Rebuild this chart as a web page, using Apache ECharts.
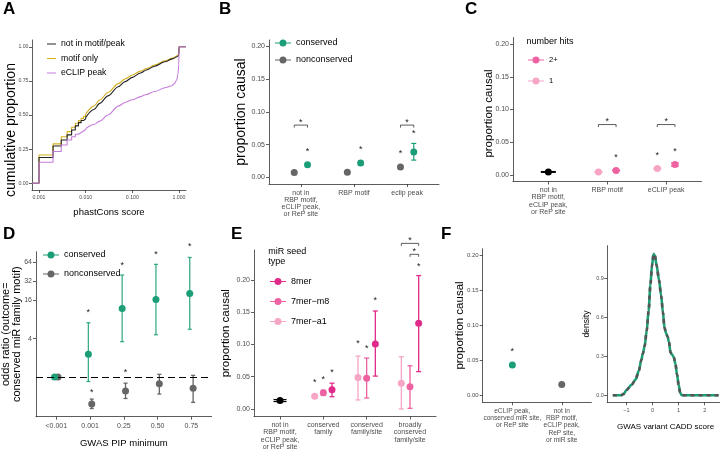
<!DOCTYPE html>
<html><head><meta charset="utf-8">
<script src="https://cdn.jsdelivr.net/npm/echarts@6/dist/echarts.min.js"></script>
<style>html,body{margin:0;padding:0;background:#fff}#c{width:720px;height:451px}</style>
</head><body><div id="c"></div><script>
// ================= DATA =================
// Panel A: cumulative proportion vs phastCons score (ECDF)
const aSteps = [0.001,0.002,0.003,0.004,0.005,0.006,0.007,0.008,0.009,0.010];
const aStepNotIn = [0.188,0.273,0.317,0.354,0.390,0.420,0.444,0.460,0.472,0.483];
const aStepMotif = [0.207,0.288,0.341,0.378,0.410,0.440,0.459,0.475,0.490,0.507];
const aStepEclip = [0.154,0.232,0.280,0.317,0.341,0.359,0.372,0.383,0.392,0.400];
const aCurve = [0.010,0.015,0.020,0.030,0.050,0.070,0.100,0.150,0.200,0.300,0.500,0.700,0.800,0.900,0.950,0.990,1.000];
const aCurveNotIn = [0.483,0.540,0.585,0.640,0.707,0.745,0.776,0.808,0.830,0.858,0.890,0.910,0.918,0.927,0.932,0.938,1.000];
const aCurveMotif = [0.507,0.565,0.610,0.665,0.730,0.765,0.793,0.822,0.840,0.866,0.897,0.915,0.924,0.934,0.940,0.946,1.000];
const aCurveEclip = [0.400,0.430,0.455,0.500,0.565,0.592,0.612,0.635,0.650,0.672,0.700,0.715,0.730,0.760,0.800,0.870,1.000];
const aNames = ['not in motif/peak','motif only','eCLIP peak'];
const aXTicks = [0.001,0.010,0.100,1.000];
const aYTicks = [0,0.25,0.5,0.75,1];

// Panel B
const bCats = ['not in\nRBP motif,\neCLIP peak,\nor ReP site','RBP motif','eclip peak'];
const bCons = [0.0193,0.0219,0.0390];
const bConsLo = [0.0178,0.0185,0.0265];
const bConsHi = [0.0208,0.0253,0.0520];
const bNon = [0.0077,0.0079,0.0158];
const bNonLo = [0.0073,0.0075,0.0150];
const bNonHi = [0.0081,0.0083,0.0166];
const bConsStar = [0.043,0.046,0.070];
const bNonStar = [null,null,0.040];
const bBracket = [0.080,null,0.080];
const propTicks = [0,0.05,0.10,0.15,0.20];

// Panel C
const cCats = ['not in\nRBP motif,\neCLIP peak,\nor ReP site','RBP motif','eCLIP peak'];
const cNone = [0.0046,null,null];
const cNoneLo = [0.0040,null,null];
const cNoneHi = [0.0052,null,null];
const cOne = [null,0.0047,0.0098];
const cOneLo = [null,0.0044,0.0090];
const cOneHi = [null,0.0050,0.0106];
const cTwo = [null,0.0068,0.0160];
const cTwoLo = [null,0.0062,0.0135];
const cTwoHi = [null,0.0074,0.0185];
const cTwoStar = [null,0.029,0.038];
const cOneStar = [null,null,0.032];
const cBracket = [null,0.077,0.077];

// Panel D (odds ratios)
const dCats = ['<0.001','0.001','0.25','0.50','0.75'];
const dCons = [1,2.27,11.9,16.5,20.5];
const dConsLo = [1,0.85,3.58,4.6,5.6];
const dConsHi = [1,7.1,39.7,58.5,75];
const dNon = [1,0.377,0.60,0.78,0.665];
const dNonLo = [1,0.32,0.46,0.54,0.40];
const dNonHi = [1,0.45,0.80,1.10,1.06];
const dConsStar = [null,10.8,60.6,89,118];
const dNonStar = [null,0.62,1.24,null,null];
const dRefOdds = 1;
const dYTicks = [4,16,32,64];

// Panel E
const eCats = ['not in\nRBP motif,\neCLIP peak,\nor ReP site','conserved\nfamily','conserved\nfamily/site','broadly\nconserved\nfamily/site'];
const eNone = [0.013,null,null,null];
const eNoneLo = [0.0115,null,null,null];
const eNoneHi = [0.0145,null,null,null];
const eA1 = [null,0.0196,0.049,0.040];
const eA1Lo = [null,0.017,0.014,0.000];
const eA1Hi = [null,0.022,0.082,0.081];
const eM8 = [null,0.025,0.0475,0.0346];
const eM8Lo = [null,0.021,0.017,0.001];
const eM8Hi = [null,0.029,0.079,0.067];
const e8 = [null,0.030,0.101,0.133];
const e8Lo = [null,0.019,0.051,0.058];
const e8Hi = [null,0.040,0.152,0.207];
const eA1Star = [null,0.044,0.104,null];
const eM8Star = [null,0.049,0.097,null];
const e8Star = [null,0.059,0.171,0.224];
const eBracketWide = [null,null,null,0.257];
const eBracketNarrow = [null,null,null,0.240];

// Panel F (left)
const fCats = ['eCLIP peak,\nconserved miR site,\nor ReP site','not in\nRBP motif,\neCLIP peak,\nReP site,\nor miR site'];
const fCons = [0.0435,null];
const fNon = [null,0.0156];
const fConsStar = [0.066,null];

// Panel F (right): density of GWAS variant CADD score
const densX = [-1.52,-1.20,-1.10,-1.00,-0.80,-0.65,-0.52,-0.43,-0.37,-0.30,-0.22,-0.15,-0.08,-0.02,0.04,0.09,0.16,0.25,0.33,0.40,0.46,0.52,0.58,0.63,0.69,0.76,0.82,0.88,0.94,1.00,1.06,1.12,2.53];
const densY = [0,0,0.01,0.04,0.08,0.12,0.19,0.27,0.32,0.38,0.50,0.65,0.85,1.00,1.09,1.08,1.00,0.89,0.77,0.64,0.52,0.48,0.45,0.41,0.33,0.31,0.29,0.24,0.16,0.08,0.02,0,0];
const densXTicks = [-1,0,1,2];
const densYTicks = [0,0.3,0.6,0.9];

// ================= STYLE =================
const FONT = '"Liberation Sans", Arial, Helvetica, sans-serif';
const TICK = '#4D4D4D', AX = '#333333';
const GREEN = '#1B9E77', GRAY = '#666666';
const P8 = '#E02B8A', PM8 = '#EE62A1', PA1 = '#F6A5C5';
const A_COL = ['#222222','#D4AF1F','#C77CDA'];
const STAR_DY = 1.8;
const PR_ICON = 'path://M0,3H16V4H0Z M8,0A3.5,3.5,0,1,1,7.99,0Z';

const chart = echarts.init(document.getElementById('c'), null, {renderer:'canvas'});

const gridBoxes = [
  {left:32, top:40, width:154, height:150},
  {left:269, top:40, width:170, height:144},
  {left:513, top:37.5, width:188.5, height:144},
  {left:36, top:251.7, width:175.7, height:165},
  {left:254, top:250, width:182, height:166.5},
  {left:482.7, top:248.7, width:108.7, height:153.6},
  {left:607.3, top:245.7, width:116.5, height:156.6}
];
const grid = gridBoxes.map(g => Object.assign({outerBoundsMode:'none', containLabel:false, show:false}, g));

function axis(gi, min, max, ticks, fmt, o) {
  o = o || {};
  const ax = {
    type:'value', gridIndex:gi, min:min, max:max, scale:false,
    axisLine:{show:true, onZero:false, lineStyle:{color:AX, width:0.8}},
    axisTick:{show:true, length:3, inside:false, customValues:ticks, lineStyle:{color:AX, width:0.8}},
    axisLabel:{show:true, customValues:ticks, formatter:fmt, color:TICK, fontSize:(o.tfs||7), fontFamily:FONT,
      margin:(o.margin!=null?o.margin:4), lineHeight:(o.lh||8), hideOverlap:false},
    splitLine:{show:false}, splitArea:{show:false}
  };
  if (o.name) {
    ax.name = o.name; ax.nameLocation = 'middle'; ax.nameGap = o.gap; ax.nameMoveOverlap = false;
    ax.nameTextStyle = {fontSize:o.fs, color:'#000', fontFamily:FONT, lineHeight:(o.nlh||Math.round(o.fs*1.1))};
    if (o.pad) ax.nameTextStyle.padding = o.pad;
  }
  return ax;
}
const catFmt = cats => (v => cats[Math.round(v)-1] || '');
const idxTicks = cats => cats.map((c,i)=>i+1);
const fix = d => (v => v.toFixed(d));
const L2 = arr => arr.map(v => v==null ? null : Math.log2(v));

const xAxes = [
  axis(0,-3.15,0.15,aXTicks.map(Math.log10), v => Math.pow(10,v).toFixed(3), {tfs:5.2, margin:4, name:'phastCons score', gap:17, fs:9.5}),
  axis(1,0.4,3.6,idxTicks(bCats),catFmt(bCats),{margin:5, lh:7.3}),
  axis(2,0.4,3.6,idxTicks(cCats),catFmt(cCats),{margin:5, lh:7.3}),
  axis(3,0.4,5.6,idxTicks(dCats),catFmt(dCats),{margin:5, name:'GWAS PIP minimum', gap:22, fs:9.5}),
  axis(4,0.4,4.6,idxTicks(eCats),catFmt(eCats),{margin:5, lh:7.3}),
  axis(5,0.4,2.6,idxTicks(fCats),catFmt(fCats),{margin:5, lh:7.3, tfs:6.6}),
  axis(6,-1.73,2.73,densXTicks, v => (v<0?'\u2212':'')+Math.abs(v), {tfs:5.5, margin:4, name:'GWAS variant CADD score', gap:20, fs:8})
];
const yAxes = [
  axis(0,-0.05,1.05,aYTicks,fix(2),{tfs:5.2, margin:3.5, name:'cumulative proportion', gap:13, fs:14, pad:[0,30,0,0]}),
  axis(1,-0.01,0.21,propTicks,fix(2),{name:'proportion causal', gap:20, fs:14}),
  axis(2,-0.01,0.21,propTicks,fix(2),{name:'proportion causal', gap:18, fs:11.5, pad:[0,8,0,0]}),
  axis(3,-2.07,6.53,L2(dYTicks), v => String(Math.round(Math.pow(2,v))), {name:'odds ratio (outcome=\nconserved miR family motif)', gap:14, fs:11, nlh:10.5}),
  axis(4,-0.0117,0.2467,propTicks,fix(2),{name:'proportion causal', gap:22, fs:11.5}),
  axis(5,-0.01,0.21,propTicks,fix(2),{tfs:6, name:'proportion causal', gap:16, fs:11.5}),
  axis(6,-0.055,1.155,densYTicks,fix(1),{tfs:5.5, margin:3.5, name:'density', gap:16, fs:8.5})
];

// ---------- series helpers ----------
function xy(xs, ys) { const d=[]; xs.forEach((x,i)=>{ if (ys[i]!=null) d.push([x, ys[i]]); }); return d; }
function pos(n, off) { return Array.from({length:n}, (_,i)=>i+1+off); }

function points(gi, name, xs, ys, color, size) {
  return {type:'scatter', name:name, xAxisIndex:gi, yAxisIndex:gi, symbol:'circle', symbolSize:size||7,
    itemStyle:{color:color, opacity:1}, data:xy(xs,ys), z:3, silent:true, clip:false};
}
function errBars(gi, xs, lo, hi, color, cap, lw) {
  const data=[]; xs.forEach((x,i)=>{ if (lo[i]!=null) data.push([x, lo[i], hi[i]]); });
  return {type:'custom', xAxisIndex:gi, yAxisIndex:gi, silent:true, z:2, clip:false, data:data,
    encode:{x:0, y:[1,2]},
    renderItem:function(p, api){
      const a=api.coord([api.value(0), api.value(1)]), b=api.coord([api.value(0), api.value(2)]);
      const st={stroke:color, lineWidth:lw||1.2};
      return {type:'group', children:[
        {type:'line', shape:{x1:a[0],y1:a[1],x2:b[0],y2:b[1]}, style:st},
        {type:'line', shape:{x1:a[0]-cap/2,y1:a[1],x2:a[0]+cap/2,y2:a[1]}, style:st},
        {type:'line', shape:{x1:b[0]-cap/2,y1:b[1],x2:b[0]+cap/2,y2:b[1]}, style:st}]};
    }};
}
function starText(x, y) {
  return {type:'text', x:x, y:y+STAR_DY, style:{text:'*', fontSize:9, fontFamily:FONT, fill:'#222', align:'center', verticalAlign:'middle'}};
}
function stars(gi, xs, ys) {
  return {type:'custom', xAxisIndex:gi, yAxisIndex:gi, silent:true, z:4, clip:false, data:xy(xs,ys),
    renderItem:function(p, api){ const c=api.coord([api.value(0), api.value(1)]); return starText(c[0], c[1]); }};
}
function brackets(gi, x1s, x2s, ys) {
  const data=[]; ys.forEach((y,i)=>{ if (y!=null) data.push([x1s[i], x2s[i], y]); });
  return {type:'custom', xAxisIndex:gi, yAxisIndex:gi, silent:true, z:4, clip:false, data:data,
    encode:{x:[0,1], y:2},
    renderItem:function(p, api){
      const a=api.coord([api.value(0), api.value(2)]), b=api.coord([api.value(1), api.value(2)]);
      return {type:'group', children:[
        {type:'polyline', shape:{points:[[a[0],a[1]+2.5],[a[0],a[1]],[b[0],b[1]],[b[0],b[1]+2.5]]}, style:{stroke:'#333', lineWidth:0.8, fill:null}},
        starText((a[0]+b[0])/2, a[1]-4.5)]};
    }};
}
function ecdf(name, color, stepY, curveY) {
  const step = [[-3.15, 0]].concat(aSteps.map((s,i)=>[Math.log10(s), stepY[i]]));
  const curve = aCurve.map((s,i)=>[Math.log10(s), curveY[i]]).concat([[0.15, 1]]);
  const base = {type:'line', name:name, xAxisIndex:0, yAxisIndex:0, showSymbol:false, symbol:'none',
    lineStyle:{color:color, width:1.1}, itemStyle:{color:color}, silent:true, z:2};
  return [Object.assign({}, base, {data:step, step:'end'}),
          Object.assign({}, base, {data:curve, smooth:0.3, smoothMonotone:'x'})];
}

const series = [];
// A
series.push(...ecdf(aNames[1], A_COL[1], aStepMotif, aCurveMotif));
series.push(...ecdf(aNames[0], A_COL[0], aStepNotIn, aCurveNotIn));
series.push(...ecdf(aNames[2], A_COL[2], aStepEclip, aCurveEclip));
// B
const bDodge = 0.125;
const bxN = pos(3,-bDodge), bxC = pos(3,bDodge);
series.push(errBars(1,bxN,bNonLo,bNonHi,GRAY,5,1.2));
series.push(errBars(1,bxC,bConsLo,bConsHi,GREEN,5,1.2));
series.push(points(1,'nonconserved',bxN,bNon,GRAY));
series.push(points(1,'conserved',bxC,bCons,GREEN));
series.push(stars(1,bxN,bNonStar), stars(1,bxC,bConsStar), brackets(1,bxN,bxC,bBracket));
// C
const cDodge = 0.15;
const cx0 = pos(3,0), cx1 = pos(3,-cDodge), cx2 = pos(3,cDodge);
series.push(errBars(2,cx0,cNoneLo,cNoneHi,'#000',15,1.2));
series.push(errBars(2,cx1,cOneLo,cOneHi,PA1,8,1.2));
series.push(errBars(2,cx2,cTwoLo,cTwoHi,PM8,8,1.2));
series.push(points(2,'all',cx0,cNone,'#000'));
series.push(points(2,'1',cx1,cOne,PA1));
series.push(points(2,'2+',cx2,cTwo,PM8));
series.push(stars(2,cx1,cOneStar), stars(2,cx2,cTwoStar), brackets(2,cx1,cx2,cBracket));
// D
const dDodge = 0.05;
const dxC = pos(5,-dDodge), dxN = pos(5,dDodge);
const dRef = errBars(3,dxN,L2(dNonLo),L2(dNonHi),GRAY,4,1.3);
dRef.markLine = {silent:true, symbol:['none','none'], label:{show:false}, animation:false,
  lineStyle:{color:'#000', type:[7,4], width:1.1}, data:[{yAxis:Math.log2(dRefOdds)}]};
dRef.z = 1;
series.push(dRef);
series.push(errBars(3,dxC,L2(dConsLo),L2(dConsHi),'rgba(27,158,119,0.85)',4,1.3));
series.push(points(3,'nonconserved',dxN,L2(dNon),GRAY));
series.push(points(3,'conserved',dxC,L2(dCons),GREEN));
series.push(stars(3,dxC,L2(dConsStar)), stars(3,dxN,L2(dNonStar)));
// E
const eDodge = 0.2;
const ex0 = pos(4,0), exA = pos(4,-eDodge), exM = pos(4,0), ex8 = pos(4,eDodge);
series.push(errBars(4,ex0,eNoneLo,eNoneHi,'#000',13,1.2));
series.push(errBars(4,exA,eA1Lo,eA1Hi,PA1,5,1.3));
series.push(errBars(4,exM,eM8Lo,eM8Hi,PM8,5,1.3));
series.push(errBars(4,ex8,e8Lo,e8Hi,P8,5,1.3));
series.push(points(4,'all',ex0,eNone,'#000'));
series.push(points(4,'7mer\u2212a1',exA,eA1,PA1));
series.push(points(4,'7mer\u2212m8',exM,eM8,PM8));
series.push(points(4,'8mer',ex8,e8,P8));
series.push(stars(4,exA,eA1Star), stars(4,exM,eM8Star), stars(4,ex8,e8Star));
series.push(brackets(4,exA,ex8,eBracketWide), brackets(4,exM,ex8,eBracketNarrow));
// F left
const fx = pos(2,0);
series.push(points(5,'conserved',fx,fCons,GREEN));
series.push(points(5,'nonconserved',fx,fNon,GRAY));
series.push(stars(5,fx,fConsStar));
// F right density
const densData = densX.map((x,i)=>[x, densY[i]]);
series.push({type:'line', name:'densGreen', xAxisIndex:6, yAxisIndex:6, data:densData, showSymbol:false, symbol:'none',
  smooth:0.3, smoothMonotone:'x', lineStyle:{color:GREEN, width:2.6}, silent:true, z:2});
series.push({type:'line', name:'densGray', xAxisIndex:6, yAxisIndex:6, data:densData, showSymbol:false, symbol:'none',
  smooth:0.3, smoothMonotone:'x', lineStyle:{color:'#555', width:2.6, type:[4,4]}, silent:true, z:3});

// ---------- titles (panel letters, legend titles) ----------
function label(text, left, top, fs, bold, lh) {
  return {text:text, left:left, top:top, padding:0, itemGap:0,
    textStyle:{fontSize:fs, fontWeight:bold?'bold':'normal', color:'#000', fontFamily:FONT, lineHeight:lh||fs}};
}
const titles = [
  label('A',3,1,17,true), label('B',219,1,17,true), label('C',465,1,17,true),
  label('D',3,226,17,true), label('E',231,226,17,true), label('F',441,226,17,true),
  label('number hits',526.5,36.5,9,false,10),
  label('miR seed\ntype',268.3,247,9,false,10)
];

// ---------- legends ----------
const legText = fs => ({fontSize:fs, color:'#000', fontFamily:FONT});
const legends = [
  {orient:'vertical', left:47, top:39.5, itemWidth:9, itemHeight:1, itemGap:5.5, icon:'path://M0,0H9V1H0Z',
    data:aNames, textStyle:legText(8.7), padding:0, selectedMode:false},
  {orient:'vertical', left:275, top:38.5, itemWidth:16, itemHeight:7, itemGap:8, icon:PR_ICON,
    data:['conserved','nonconserved'], textStyle:legText(9), padding:0, selectedMode:false},
  {orient:'vertical', left:528, top:56, itemWidth:16, itemHeight:7, itemGap:13, icon:PR_ICON,
    data:['2+','1'], textStyle:legText(7.5), padding:0, selectedMode:false},
  {orient:'vertical', left:43, top:250.5, itemWidth:16, itemHeight:7, itemGap:10, icon:PR_ICON,
    data:['conserved','nonconserved'], textStyle:legText(9), padding:0, selectedMode:false},
  {orient:'vertical', left:270, top:277, itemWidth:16, itemHeight:7, itemGap:11, icon:PR_ICON,
    data:['8mer','7mer\u2212m8','7mer\u2212a1'], textStyle:legText(9), padding:0, selectedMode:false}
];

chart.setOption({
  animation:false, backgroundColor:'#ffffff',
  textStyle:{fontFamily:FONT},
  title:titles, legend:legends, grid:grid, xAxis:xAxes, yAxis:yAxes, series:series, tooltip:{show:false}
});
</script></body></html>
